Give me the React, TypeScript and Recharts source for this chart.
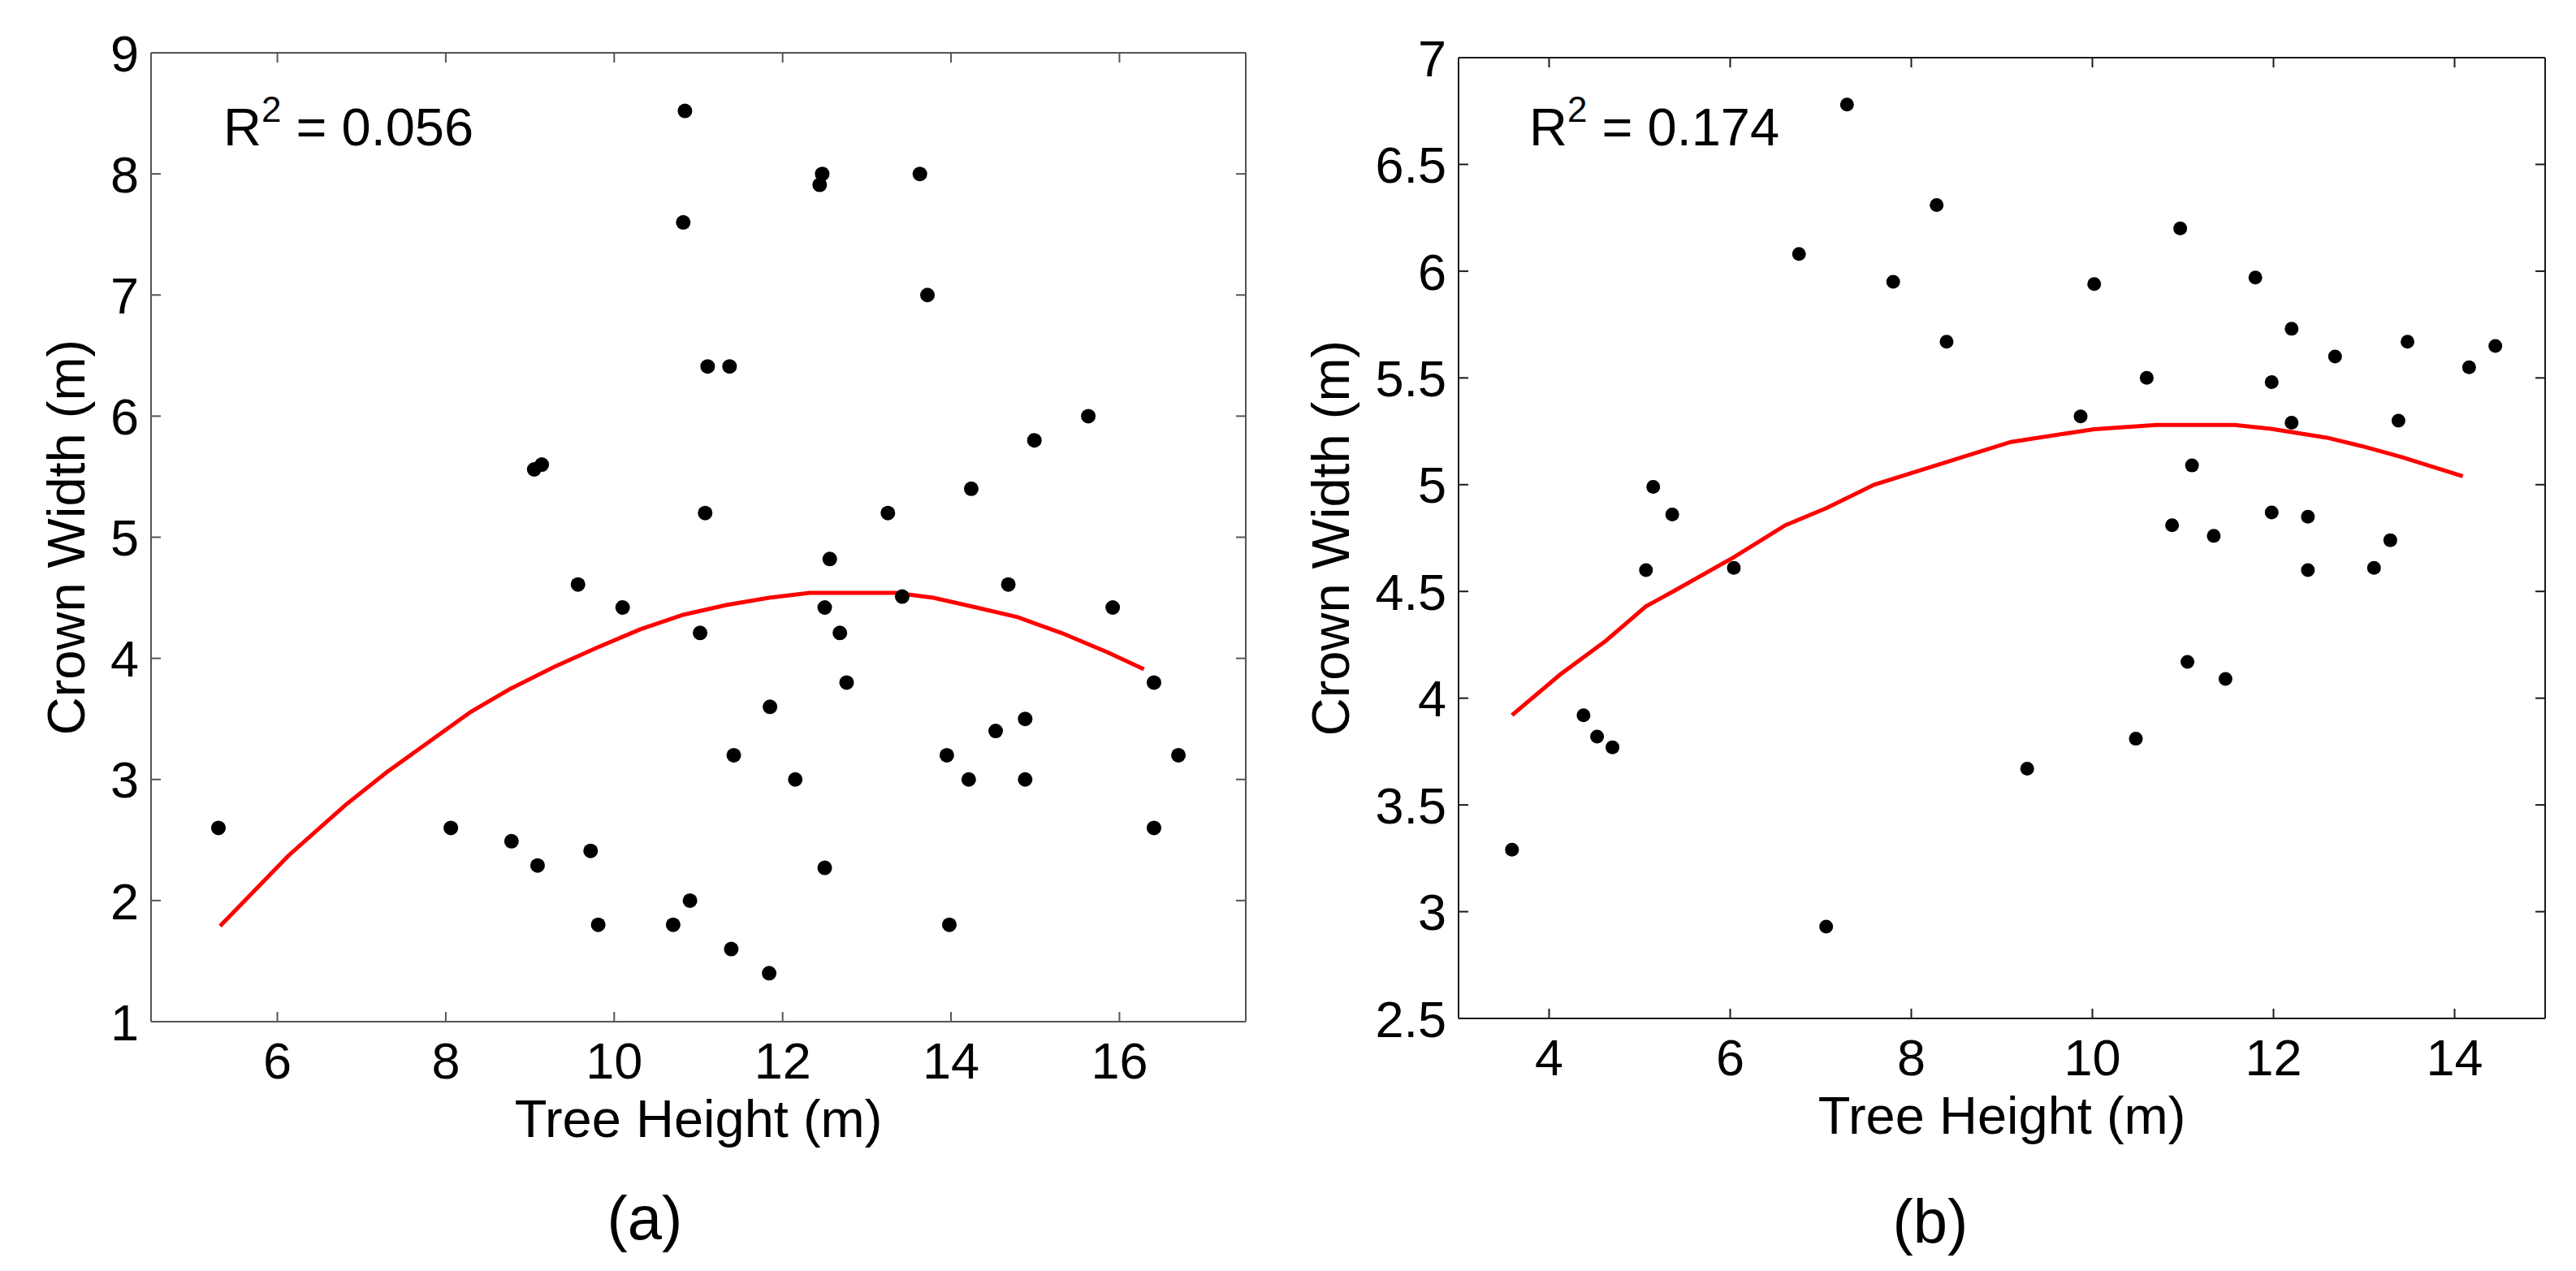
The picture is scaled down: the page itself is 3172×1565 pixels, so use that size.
import React from 'react';
import { ComposedChart, Scatter, Line, XAxis, YAxis } from 'recharts';

const FONT = '"Liberation Sans", Arimo, Arial, Helvetica, sans-serif';

// ---- Panel (a): observed trees ----
const treeHeightA = [
  5.3, 8.06, 8.78, 9.09, 9.72, 9.81, 9.05, 9.14, 9.57, 10.1, 10.7, 10.9,
  10.84, 10.82, 11.11, 11.37, 11.08, 11.02, 11.42, 11.39, 11.84, 11.85, 12.15, 12.47,
  12.44, 12.56, 12.5, 12.68, 12.76, 12.5, 13.25, 13.42, 13.63, 13.72, 13.95, 13.98,
  14.21, 14.24, 14.53, 14.68, 14.88, 14.88, 14.99, 15.63, 15.92, 16.41, 16.41, 16.7,
];
const crownWidthA = [
  2.6, 2.6, 2.49, 2.29, 2.41, 1.8, 5.56, 5.6, 4.61, 4.42, 1.8, 2.0,
  8.52, 7.6, 6.41, 6.41, 5.2, 4.21, 3.2, 1.6, 1.4, 3.6, 3.0, 8.0,
  7.91, 4.82, 4.42, 4.21, 3.8, 2.27, 5.2, 4.51, 8.0, 7.0, 3.2, 1.8,
  3.0, 5.4, 3.4, 4.61, 3.5, 3.0, 5.8, 6.0, 4.42, 3.8, 2.6, 3.2,
];
// fitted quadratic trend (a), vertices of the plotted polyline
const fitHeightA = [5.32, 6.13, 6.81, 7.3, 7.82, 8.3, 8.77, 9.29, 9.8, 10.31, 10.82, 11.33, 11.84, 12.32, 13.34, 13.79, 14.3, 14.79, 15.31, 15.86, 16.29];
const fitWidthA = [1.79, 2.37, 2.79, 3.06, 3.32, 3.56, 3.75, 3.93, 4.09, 4.24, 4.36, 4.44, 4.5, 4.54, 4.54, 4.5, 4.42, 4.34, 4.21, 4.05, 3.91];
const xTicksA = [6, 8, 10, 12, 14, 16];
const yTicksA = [1, 2, 3, 4, 5, 6, 7, 8, 9];

// ---- Panel (b): observed trees ----
const treeHeightB = [
  3.59, 4.38, 4.53, 4.7, 5.07, 5.15, 5.36, 6.04, 6.76, 7.06, 7.29, 7.8, 8.28,
  8.39, 9.28, 9.87, 10.02, 10.48, 10.6, 10.88, 10.97, 11.05, 11.1, 11.34, 11.47,
  11.8, 11.98, 11.98, 12.2, 12.2, 12.38, 12.38, 12.68, 13.11, 13.29, 13.38, 13.48,
  14.16, 14.45,
];
const crownWidthB = [
  3.29, 3.92, 3.82, 3.77, 4.6, 4.99, 4.86, 4.61, 6.08, 2.93, 6.78, 5.95, 6.31,
  5.67, 3.67, 5.32, 5.94, 3.81, 5.5, 4.81, 6.2, 4.17, 5.09, 4.76, 4.09,
  5.97, 5.48, 4.87, 5.73, 5.29, 4.85, 4.6, 5.6, 4.61, 4.74, 5.3, 5.67,
  5.55, 5.65,
];
const fitHeightB = [3.59, 4.12, 4.63, 5.07, 5.37, 6.04, 6.61, 7.06, 7.59, 8.27, 9.1, 10.02, 10.71, 11.57, 12.0, 12.59, 12.98, 13.41, 14.09];
const fitWidthB = [3.92, 4.11, 4.27, 4.43, 4.5, 4.66, 4.81, 4.89, 5.0, 5.09, 5.2, 5.26, 5.28, 5.28, 5.26, 5.22, 5.18, 5.13, 5.04];
const xTicksB = [4, 6, 8, 10, 12, 14];
const yTicksB = [2.5, 3, 3.5, 4, 4.5, 5, 5.5, 6, 6.5, 7];

const zip = (xs: number[], ys: number[]) => xs.map((x, i) => ({ x, y: ys[i] }));

const TICK_LEN = 12;
const TICK_FONT = 63;
const LABEL_FONT = 65;

type PanelProps = {
  left: number;
  width: number;
  height: number;
  marginTop: number;
  yAxisWidth: number;
  bottomAxisHeight: number;
  points: { x: number; y: number }[];
  fit: { x: number; y: number }[];
  xDomain: [number, number];
  yDomain: [number, number];
  xTicks: number[];
  yTicks: number[];
  axisColor: string;
  dotR: number;
  yLabelX: number;
};

function Panel(p: PanelProps) {
  const c = p.axisColor;

  const BottomTick = (t: any) => (
    <g>
      <line x1={t.x} y1={t.y} x2={t.x} y2={t.y - TICK_LEN} stroke={c} strokeWidth={2} />
      <text x={t.x} y={t.y + 70} textAnchor="middle" fontSize={TICK_FONT} fontFamily={FONT} fill="#000">
        {t.payload.value}
      </text>
    </g>
  );
  const TopTick = (t: any) => (
    <line x1={t.x} y1={t.y} x2={t.x} y2={t.y + TICK_LEN} stroke={c} strokeWidth={2} />
  );
  const LeftTick = (t: any) => (
    <g>
      <line x1={t.x} y1={t.y} x2={t.x + TICK_LEN} y2={t.y} stroke={c} strokeWidth={2} />
      <text x={t.x - 15} y={t.y} dy="0.36em" textAnchor="end" fontSize={TICK_FONT} fontFamily={FONT} fill="#000">
        {t.payload.value}
      </text>
    </g>
  );
  const RightTick = (t: any) => (
    <line x1={t.x} y1={t.y} x2={t.x - TICK_LEN} y2={t.y} stroke={c} strokeWidth={2} />
  );

  const xLabel = (lp: any) => {
    const vb = lp.viewBox || { x: 0, y: 0, width: 0 };
    return (
      <text x={vb.x + vb.width / 2} y={vb.y + 142} textAnchor="middle" fontSize={LABEL_FONT} fontFamily={FONT} fill="#000">
        Tree Height (m)
      </text>
    );
  };
  const yLabel = (lp: any) => {
    const vb = lp.viewBox || { x: 0, y: 0, height: 0 };
    const cy = vb.y + vb.height / 2;
    return (
      <text
        x={p.yLabelX}
        y={cy}
        transform={`rotate(-90 ${p.yLabelX} ${cy})`}
        textAnchor="middle"
        fontSize={LABEL_FONT}
        fontFamily={FONT}
        fill="#000"
      >
        Crown Width (m)
      </text>
    );
  };

  return (
    <div style={{ position: 'absolute', left: p.left, top: 0 }}>
      <ComposedChart
        width={p.width}
        height={p.height}
        margin={{ top: p.marginTop, right: 0, bottom: 0, left: 0 }}
      >
        <XAxis
          xAxisId="bottom"
          type="number"
          dataKey="x"
          orientation="bottom"
          domain={p.xDomain}
          ticks={p.xTicks}
          interval={0}
          allowDataOverflow
          height={p.bottomAxisHeight}
          tickSize={0}
          tickMargin={0}
          tickLine={false}
          axisLine={{ stroke: c, strokeWidth: 2 }}
          tick={BottomTick}
          label={{ content: xLabel }}
        />
        <XAxis
          xAxisId="top"
          type="number"
          dataKey="x"
          orientation="top"
          domain={p.xDomain}
          ticks={p.xTicks}
          interval={0}
          allowDataOverflow
          height={10}
          tickSize={0}
          tickMargin={0}
          tickLine={false}
          axisLine={{ stroke: c, strokeWidth: 2 }}
          tick={TopTick}
        />
        <YAxis
          yAxisId="left"
          type="number"
          dataKey="y"
          orientation="left"
          domain={p.yDomain}
          ticks={p.yTicks}
          interval={0}
          allowDataOverflow
          width={p.yAxisWidth}
          tickSize={0}
          tickMargin={0}
          tickLine={false}
          axisLine={{ stroke: c, strokeWidth: 2 }}
          tick={LeftTick}
          label={{ content: yLabel }}
        />
        <YAxis
          yAxisId="right"
          type="number"
          dataKey="y"
          orientation="right"
          domain={p.yDomain}
          ticks={p.yTicks}
          interval={0}
          allowDataOverflow
          width={10}
          tickSize={0}
          tickMargin={0}
          tickLine={false}
          axisLine={{ stroke: c, strokeWidth: 2 }}
          tick={RightTick}
        />
        <Scatter
          xAxisId="bottom"
          yAxisId="left"
          data={p.points}
          dataKey="y"
          isAnimationActive={false}
          shape={(s: any) => <circle cx={s.cx} cy={s.cy} r={p.dotR} fill="#000" />}
        />
        <Line
          xAxisId="bottom"
          yAxisId="left"
          data={p.fit}
          dataKey="y"
          type="linear"
          stroke="#ff0000"
          strokeWidth={5}
          dot={false}
          activeDot={false}
          isAnimationActive={false}
        />
      </ComposedChart>
    </div>
  );
}

export default function App() {
  return (
    <div
      style={{
        position: 'absolute',
        left: 0,
        top: 0,
        width: 3172,
        height: 1565,
        background: '#fff',
        overflow: 'hidden',
      }}
    >
      <Panel
        left={0}
        width={1544}
        height={1565}
        marginTop={55}
        yAxisWidth={186}
        bottomAxisHeight={307}
        points={zip(treeHeightA, crownWidthA)}
        fit={zip(fitHeightA, fitWidthA)}
        xDomain={[4.5, 17.5]}
        yDomain={[1, 9]}
        xTicks={xTicksA}
        yTicks={yTicksA}
        axisColor="#555555"
        dotR={9}
        yLabelX={104}
      />
      <Panel
        left={1560}
        width={1584}
        height={1565}
        marginTop={61}
        yAxisWidth={236}
        bottomAxisHeight={311}
        points={zip(treeHeightB, crownWidthB)}
        fit={zip(fitHeightB, fitWidthB)}
        xDomain={[3, 15]}
        yDomain={[2.5, 7]}
        xTicks={xTicksB}
        yTicks={yTicksB}
        axisColor="#1a1a1a"
        dotR={8.5}
        yLabelX={101}
      />
      <svg
        width={3172}
        height={1565}
        style={{ position: 'absolute', left: 0, top: 0, pointerEvents: 'none' }}
      >
        <text x={275} y={179} fontSize={LABEL_FONT} fontFamily={FONT} fill="#000">
          R
          <tspan fontSize={44} dy={-29}>2</tspan>
          <tspan dy={29}> = 0.056</tspan>
        </text>
        <text x={1883} y={179} fontSize={LABEL_FONT} fontFamily={FONT} fill="#000">
          R
          <tspan fontSize={44} dy={-29}>2</tspan>
          <tspan dy={29}> = 0.174</tspan>
        </text>
        <text x={794} y={1526} textAnchor="middle" fontSize={76} fontFamily={FONT} fill="#000">
          (a)
        </text>
        <text x={2377} y={1530} textAnchor="middle" fontSize={76} fontFamily={FONT} fill="#000">
          (b)
        </text>
      </svg>
    </div>
  );
}
